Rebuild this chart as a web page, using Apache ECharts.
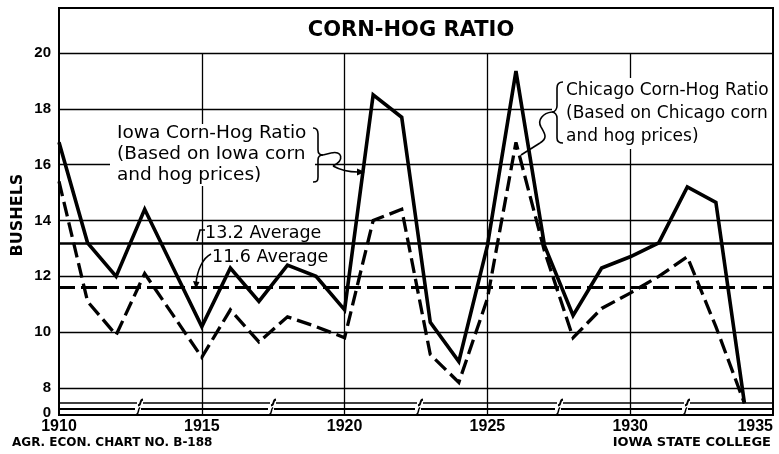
<!DOCTYPE html>
<html><head><meta charset="utf-8">
<script src="https://cdn.jsdelivr.net/npm/echarts@6/dist/echarts.min.js"></script>
<style>html,body{margin:0;padding:0;background:#fff}#c{width:779px;height:454px}</style>
</head><body><div id="c"></div>
<script>
// ---- data ----
const years = [1910,1911,1912,1913,1914,1915,1916,1917,1918,1919,1920,1921,1922,1923,1924,1925,1926,1927,1928,1929,1930,1931,1932,1933,1934];
// Iowa corn-hog ratio (solid line)
const iowaRatio = [16.8,13.2,12.0,14.4,12.3,10.2,12.3,11.1,12.4,12.0,10.8,18.5,17.7,10.35,8.95,13.1,19.35,13.1,10.6,12.3,12.7,13.2,15.2,14.65,7.45];
// Chicago corn-hog ratio (dashed line)
const chicagoRatio = [15.4,11.1,9.9,12.1,10.6,9.1,10.8,9.65,10.55,10.2,9.8,14.0,14.4,9.2,8.2,11.2,16.8,12.9,9.8,10.85,11.4,12.0,12.7,10.2,7.45];
const iowaAverage = 13.2;
const chicagoAverage = 11.6;
const xTicks = [1910,1915,1920,1925,1930,1935];
const yTicks = [8,10,12,14,16,18,20];
const zeroLabel = '0';

// axis extent (broken axis: the "0" baseline sits just below 8)
const Y_MIN = 7.033, Y_MAX = 21.612, ZERO_POS = 7.105;

const chart = echarts.init(document.getElementById('c'), null, {renderer:'canvas'});

const hGrid = yTicks.map(v => ({yAxis: v}));
const vGrid = xTicks.slice(1, -1).map(x => [{coord:[x, yTicks[yTicks.length-1]]},{coord:[x, Y_MIN]}]);

const FONT = '"DejaVu Sans", sans-serif';
const STROKE = {fill:null, stroke:'#000', lineWidth:1.6};

function pairs(arr){ return years.map((y,i)=>[y, arr[i]]); }
function bez(x1,y1,c1x,c1y,c2x,c2y,x2,y2,w){
  return {type:'bezierCurve', z:101, shape:{x1:x1,y1:y1,cpx1:c1x,cpy1:c1y,cpx2:c2x,cpy2:c2y,x2:x2,y2:y2},
    style:{fill:null, stroke:'#000', lineWidth:w||1.6}};
}
function seg(x1,y1,x2,y2,w){
  return {type:'line', z:101, shape:{x1:x1,y1:y1,x2:x2,y2:y2}, style:{stroke:'#000', lineWidth:w||1.6}};
}

const breakXs = [140, 273, 420, 560, 687];
const breakGraphics = [];
breakXs.forEach(x => {
  breakGraphics.push({type:'rect', shape:{x:x-3, y:400, width:6, height:5}, style:{fill:'#fff'}, z:101});
  breakGraphics.push(Object.assign(bez(x+3,399.5, x-1,400, x+2,405, x-2,405.5, 1.8), {z:102}));
  breakGraphics.push({type:'rect', shape:{x:x-5, y:408, width:6, height:6}, style:{fill:'#fff'}, z:101});
  breakGraphics.push(Object.assign(bez(x,407.5, x-3,410, x,413, x-4,415, 1.5), {z:102}));
});

const annotation = [
  // Iowa bracket and arrow
  bez(313,128, 317,128, 318,130, 318,134), seg(318,134,318,150), bez(318,150, 318,153, 320,155, 323,155),
  bez(323,155, 320,155, 318,157, 318,160), seg(318,160,318,177), bez(318,177, 318,181, 317,182, 313,182),
  seg(323,155,331,153), bez(331,153, 342,150, 345,160, 333,166), bez(333,166, 342,171, 350,172, 358,172),
  {type:'polygon', z:101, shape:{points:[[365,172],[357,168.5],[357,175.5]]}, style:{fill:'#000'}},
  // Chicago bracket and leader
  bez(563,82, 559,82, 557,84, 557,88), seg(557,88,557,106), bez(557,106, 557,109, 555,112, 552,112),
  bez(552,112, 555,112, 557,115, 557,118), seg(557,118,557,138), bez(557,138, 557,141, 559,143, 563,143),
  bez(552,112, 543,113, 537,120, 541,127), bez(541,127, 545,134, 548,138, 540,143), seg(540,143,521,155),
  // average leaders
  {type:'polyline', z:101, shape:{points:[[197,241],[200,230],[205,230]]}, style:STROKE},
  bez(196,284, 197,270, 203,258, 211,254),
  {type:'polygon', z:101, shape:{points:[[196,289],[193,281],[199.5,282]]}, style:{fill:'#000'}}
];

const option = {
  animation: false,
  backgroundColor: '#fff',
  grid: {left:59, right:6, top:8, bottom:39, show:true, borderColor:'#000', borderWidth:2, backgroundColor:'transparent'},
  xAxis: {
    type:'value', min:xTicks[0], max:xTicks[xTicks.length-1], interval:5,
    axisLine:{show:false}, axisTick:{show:false}, splitLine:{show:false},
    axisLabel:{color:'#000', fontFamily:'"Liberation Sans", sans-serif', fontWeight:'bold', fontSize:16, margin:4,
      showMinLabel:true, showMaxLabel:true, alignMaxLabel:'right', formatter: v => String(v)}
  },
  yAxis: {
    type:'value', min:Y_MIN, max:Y_MAX,
    axisLine:{show:false}, axisTick:{show:false}, splitLine:{show:false},
    axisLabel:{color:'#000', fontFamily:'"Liberation Sans", sans-serif', fontWeight:'bold', fontSize:15, margin:8,
      customValues:[ZERO_POS].concat(yTicks),
      formatter: v => (v < 7.5 ? zeroLabel : String(Math.round(v)))}
  },
  series: [
    { // grid lines
      type:'line', data:pairs(iowaRatio), z:1, silent:true, symbol:'none',
      lineStyle:{opacity:0, width:0},
      markLine:{silent:true, symbol:['none','none'], label:{show:false},
        lineStyle:{color:'#000', width:1.3, type:'solid'},
        data: hGrid.concat(vGrid)}
    },
    {
      name:'Chicago Corn-Hog Ratio', type:'line', data:pairs(chicagoRatio), z:2,
      symbol:'none', lineStyle:{color:'#000', width:3.3, type:[15,6], join:'miter', miterLimit:4},
      markLine:{silent:true, symbol:['none','none'], label:{show:false},
        lineStyle:{color:'#000', width:3, type:[16,6]}, data:[{yAxis:chicagoAverage}]}
    },
    {
      name:'Iowa Corn-Hog Ratio', type:'line', data:pairs(iowaRatio), z:3,
      symbol:'none', lineStyle:{color:'#000', width:3.6, type:'solid', join:'miter', miterLimit:4},
      markLine:{silent:true, symbol:['none','none'], label:{show:false},
        lineStyle:{color:'#000', width:2.6, type:'solid'}, data:[{yAxis:iowaAverage}]}
    }
  ],
  graphic: [
    {type:'text', x:411, y:31, z:100, style:{text:'CORN-HOG RATIO', font:'bold 21px '+FONT, fill:'#000', align:'center', verticalAlign:'middle'}},
    {type:'text', x:18, y:215, rotation:Math.PI/2, z:100, style:{text:'BUSHELS', font:'bold 16px '+FONT, fill:'#000', align:'center', verticalAlign:'middle'}},
    {type:'text', x:12, y:443, z:100, style:{text:'AGR. ECON. CHART NO. B-188', font:'bold 12px '+FONT, fill:'#000', align:'left', verticalAlign:'middle'}},
    {type:'text', x:771, y:443, z:100, style:{text:'IOWA STATE COLLEGE', font:'bold 13px '+FONT, fill:'#000', align:'right', verticalAlign:'middle'}},
    {type:'rect', shape:{x:110, y:124, width:205, height:62}, style:{fill:'#fff'}, z:100},
    {type:'text', x:117, y:122.5, z:101, style:{text:'Iowa Corn-Hog Ratio\n(Based on Iowa corn\nand hog prices)', font:'18.5px '+FONT, lineHeight:21, fill:'#000', align:'left', verticalAlign:'top'}},
    {type:'rect', shape:{x:552, y:78, width:220, height:71}, style:{fill:'#fff'}, z:100},
    {type:'text', x:566, y:79.5, z:101, style:{text:'Chicago Corn-Hog Ratio\n(Based on Chicago corn\nand hog prices)', font:'17px '+FONT, lineHeight:23, fill:'#000', align:'left', verticalAlign:'top'}},
    {type:'text', x:205, y:233, z:101, style:{text:'13.2 Average', font:'17.5px '+FONT, fill:'#000', align:'left', verticalAlign:'middle'}},
    {type:'text', x:212, y:257, z:101, style:{text:'11.6 Average', font:'17.5px '+FONT, fill:'#000', align:'left', verticalAlign:'middle'}},
    {type:'line', z:100, shape:{x1:59, y1:403, x2:773, y2:403}, style:{stroke:'#000', lineWidth:1.5}},
    {type:'line', z:100, shape:{x1:59, y1:409, x2:773, y2:409}, style:{stroke:'#000', lineWidth:2}}
  ].concat(annotation).concat(breakGraphics)
};
chart.setOption(option);
</script>
</body></html>
